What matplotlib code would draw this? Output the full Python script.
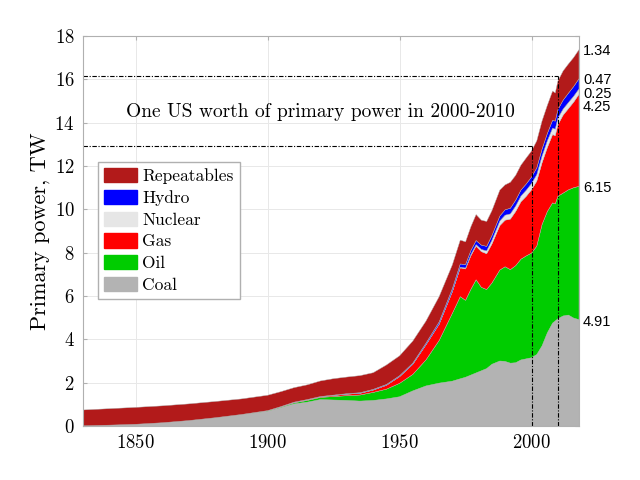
import numpy as np
import matplotlib
matplotlib.use("Agg")
import matplotlib.pyplot as plt
from matplotlib.patches import Patch

plt.rcParams['font.family'] = 'serif'
plt.rcParams['font.serif'] = ['cmr10']
plt.rcParams['axes.formatter.use_mathtext'] = True
plt.rcParams['mathtext.fontset'] = 'cm'

# world primary power by source, TW
years = [1830, 1840, 1850, 1860, 1870, 1880, 1890, 1900, 1905, 1910, 1915, 1920,
         1925, 1930, 1935, 1940, 1945, 1950, 1955, 1960, 1965, 1970, 1973, 1975,
         1977, 1979, 1981, 1983, 1985, 1988, 1990, 1992, 1994, 1996, 1998, 2000,
         2002, 2004, 2006, 2008, 2009, 2010, 2012, 2014, 2016, 2018]
coal_top = [0.01, 0.04, 0.08, 0.15, 0.25, 0.37, 0.52, 0.68, 0.85, 1.02, 1.10, 1.22,
            1.20, 1.18, 1.15, 1.18, 1.25, 1.35, 1.62, 1.85, 1.98, 2.07, 2.18, 2.25,
            2.35, 2.45, 2.55, 2.65, 2.85, 3.00, 2.98, 2.90, 2.92, 3.05, 3.10, 3.15,
            3.30, 3.70, 4.30, 4.75, 4.85, 4.95, 5.08, 5.12, 4.98, 4.91]
oil_top = [0.01, 0.04, 0.08, 0.15, 0.25, 0.38, 0.53, 0.70, 0.88, 1.07, 1.18, 1.32,
           1.36, 1.40, 1.43, 1.55, 1.70, 1.97, 2.38, 3.05, 3.95, 5.20, 5.97, 5.80,
           6.30, 6.75, 6.40, 6.30, 6.60, 7.20, 7.35, 7.22, 7.40, 7.70, 7.85, 7.98,
           8.30, 9.30, 9.90, 10.30, 10.25, 10.60, 10.75, 10.90, 11.00, 11.06]
gas_top = [0.01, 0.04, 0.08, 0.15, 0.25, 0.38, 0.53, 0.71, 0.89, 1.09, 1.21, 1.35,
           1.41, 1.47, 1.51, 1.66, 1.88, 2.28, 2.85, 3.75, 4.70, 6.20, 7.30, 7.25,
           7.85, 8.30, 8.05, 7.95, 8.40, 9.25, 9.50, 9.55, 9.90, 10.35, 10.60, 10.90,
           11.30, 12.15, 12.85, 13.45, 13.40, 13.90, 14.35, 14.65, 14.95, 15.31]
nuclear = [0, 0, 0, 0, 0, 0, 0, 0, 0, 0, 0, 0,
           0, 0, 0, 0, 0, 0, 0, 0.002, 0.005, 0.01, 0.03, 0.04,
           0.06, 0.07, 0.10, 0.13, 0.17, 0.21, 0.23, 0.24, 0.25, 0.26, 0.28, 0.29,
           0.30, 0.31, 0.31, 0.30, 0.30, 0.31, 0.28, 0.28, 0.27, 0.25]
hydro = [0, 0, 0, 0, 0, 0, 0, 0, 0.005, 0.01, 0.01, 0.01,
         0.015, 0.02, 0.025, 0.03, 0.035, 0.04, 0.05, 0.07, 0.10, 0.13, 0.15, 0.16,
         0.18, 0.19, 0.20, 0.21, 0.22, 0.23, 0.25, 0.26, 0.27, 0.28, 0.29, 0.30,
         0.31, 0.32, 0.34, 0.36, 0.37, 0.39, 0.41, 0.43, 0.45, 0.47]
repeatables = [0.73, 0.76, 0.78, 0.78, 0.77, 0.75, 0.72, 0.71, 0.69, 0.67, 0.68, 0.72,
               0.76, 0.77, 0.79, 0.77, 0.90, 0.92, 1.02, 1.02, 1.17, 1.10, 1.10, 1.05,
               1.10, 1.20, 1.15, 1.15, 1.15, 1.20, 1.15, 1.20, 1.15, 1.15, 1.20, 1.20,
               1.25, 1.30, 1.30, 1.35, 1.30, 1.32, 1.35, 1.35, 1.34, 1.34]

names = ['Coal', 'Oil', 'Gas', 'Nuclear', 'Hydro', 'Repeatables']
colors = ['#b3b3b3', '#00cc00', '#ff0000', '#e6e6e6', '#0000ff', '#b21a1a']
last_labels = ['4.91', '6.15', '4.25', '0.25', '0.47', '1.34']
label_y = [4.80, 10.98, 14.72, 15.34, 15.99, 17.30]

# US primary power lines
level_2000 = 12.92
level_2010 = 16.15

coal = np.array(coal_top)
oil = np.array(oil_top) - coal
gas = np.array(gas_top) - np.array(oil_top)
series = [coal, oil, gas, np.array(nuclear), np.array(hydro), np.array(repeatables)]

fig = plt.figure(figsize=(6.4, 4.8), dpi=100)
ax = fig.add_axes([83/640, 54/480, 496/640, 390/480])

ax.stackplot(years, series, colors=colors, linewidth=0.3, edgecolors=colors)

ls = (0, (4, 1.5, 1, 1.5))
ax.plot([1830, 2010], [level_2010, level_2010], color='black', lw=0.8, ls=ls)
ax.plot([1830, 2000], [level_2000, level_2000], color='black', lw=0.8, ls=ls)
ax.plot([2000, 2000], [0, level_2000], color='black', lw=0.8, ls=ls)
ax.plot([2010, 2010], [0, level_2010], color='black', lw=0.8, ls=ls)

ax.text(1920, 14.5, 'One US worth of primary power in 2000-2010', fontsize=14,
        ha='center', va='center')

for lab, yy in zip(last_labels, label_y):
    ax.text(1.008, yy, lab, transform=ax.get_yaxis_transform(), fontsize=10.5,
            family='Liberation Sans', va='center', ha='left')

ax.set_xlim(1830, 2018)
ax.set_ylim(0, 18)
ax.set_xticks([1850, 1900, 1950, 2000])
ax.set_yticks(range(0, 19, 2))
ax.grid(True, color='#e8e8e8', lw=0.7)
ax.set_axisbelow(True)
for s in ax.spines.values():
    s.set_color('#b0b0b0')
    s.set_zorder(5)
ax.tick_params(direction='in', color='#b0b0b0', length=3, labelsize=13.5,
               top=True, right=True, pad=6)
ax.set_ylabel('Primary power, TW', fontsize=16, labelpad=3)

handles = [Patch(facecolor=c, edgecolor=c) for c in colors][::-1]
ax.legend(handles, names[::-1], loc='upper left', bbox_to_anchor=(0.03, 0.677),
          borderaxespad=0, fancybox=False, framealpha=1, edgecolor='#b0b0b0',
          fontsize=12.5, handlelength=1.9, handleheight=0.9, labelspacing=0.32,
          handletextpad=0.3, borderpad=0.35)

fig.savefig('out.png', dpi=100)
